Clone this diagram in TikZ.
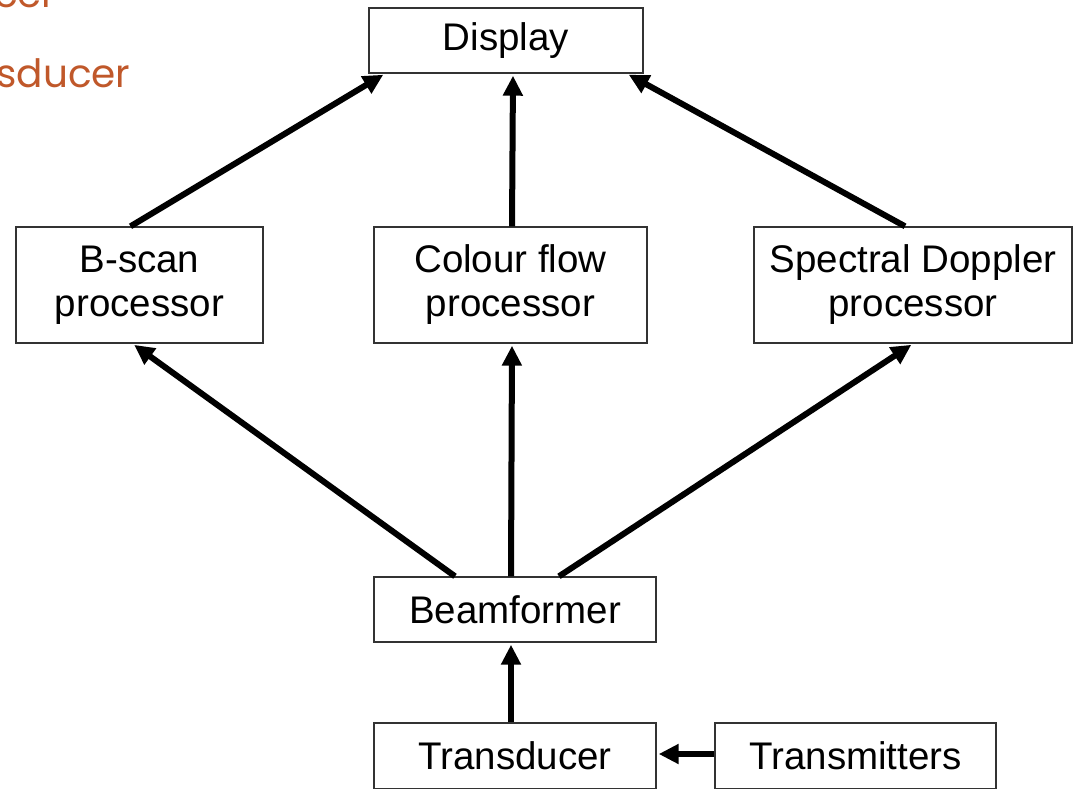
\documentclass[tikz,border=0pt]{standalone}
\usepackage{fontspec}
\setmainfont{Liberation Sans}
\newfontfamily\titlefont{Poppins}
\usetikzlibrary{arrows.meta}
\definecolor{rust}{HTML}{C0582A}
\begin{document}
\begin{tikzpicture}[x=1pt,y=-1pt,
  box/.style={draw=black!80,line width=1.4pt,rectangle,inner sep=0pt,align=center,
    font=\fontsize{38.5}{44}\selectfont},
  arr/.style={line width=6pt,-{Triangle[length=20pt,width=19pt]},shorten >=2pt}]
\useasboundingbox (0,0) rectangle (1073,789);
\begin{scope}
\clip (0,0) rectangle (1073,789);
\node[anchor=base east,text=rust,font=\titlefont\fontsize{39}{44}\selectfont] (t1) at (60,8) {ducer};
\node[anchor=base east,text=rust,font=\titlefont\fontsize{39}{44}\selectfont] (t2) at (134,88) {sducer};
\node[box,minimum width=274pt,minimum height=65pt] (display) at (506,40.5) {Display};
\node[box,minimum width=247pt,minimum height=116pt] (bscan) at (139.5,285) {B-scan\\processor};
\node[box,minimum width=273pt,minimum height=116pt] (colour) at (510.5,285) {Colour flow\\processor};
\node[box,minimum width=318pt,minimum height=116pt] (spec) at (913,285) {Spectral Doppler\\processor};
\node[box,minimum width=282pt,minimum height=65pt] (beam) at (515,609.5) {Beamformer};
\node[box,minimum width=282pt,minimum height=66pt] (trans) at (515,756) {Transducer};
\node[box,minimum width=281pt,minimum height=66pt] (tx) at (855.5,756) {Transmitters};
\end{scope}
\draw[arr] ([xshift=-9pt]bscan.north) -- ([xshift=-121pt]display.south);
\draw[arr] ([xshift=1.5pt]colour.north) -- ([xshift=7pt]display.south);
\draw[arr] ([xshift=-8pt]spec.north) -- ([xshift=121pt]display.south);
\draw[arr] ([xshift=-60pt]beam.north) -- ([xshift=-7pt]bscan.south);
\draw[arr] ([xshift=-4pt]beam.north) -- ([xshift=1.5pt]colour.south);
\draw[arr] ([xshift=44pt]beam.north) -- (spec.south);
\draw[arr] ([xshift=-4pt]trans.north) -- ([xshift=-4pt]beam.south);
\draw[arr] ([yshift=2pt]tx.west) -- ([yshift=2pt]trans.east);
\end{tikzpicture}
\end{document}
